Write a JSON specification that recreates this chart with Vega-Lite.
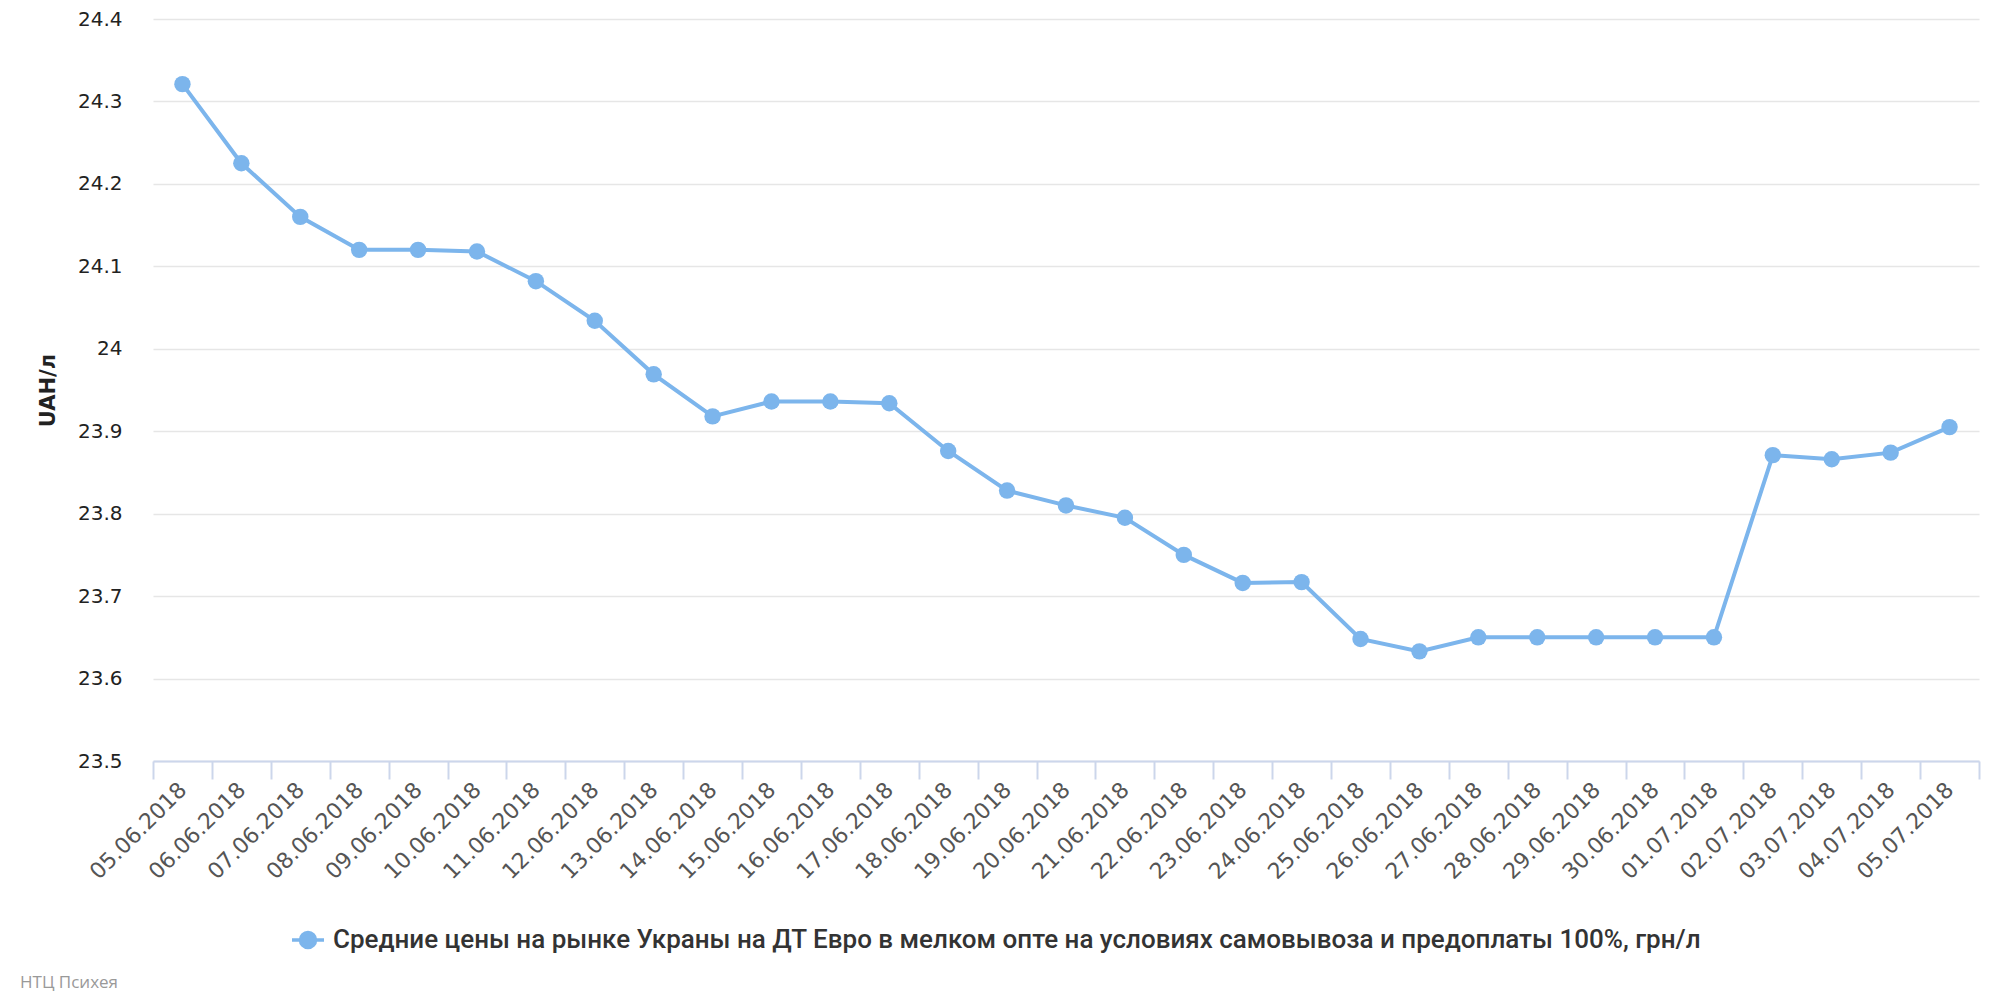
{
  "$schema": "https://vega.github.io/schema/vega-lite/v6.json",
  "width": 1826,
  "height": 742,
  "autosize": "none",
  "padding": {"left": 153, "top": 19, "right": 21, "bottom": 239},
  "background": "white",
  "title": {"text": "НТЦ Психея", "orient": "bottom", "anchor": "start", "frame": "group", "dx": -133, "offset": 20, "font": "Open Sans", "fontSize": 17, "fontWeight": "normal", "color": "#999999"},
  "config": {"view": {"stroke": null}},
  "data": {"values": [
    {"date": "05.06.2018", "price": 24.321},
    {"date": "06.06.2018", "price": 24.225},
    {"date": "07.06.2018", "price": 24.16},
    {"date": "08.06.2018", "price": 24.12},
    {"date": "09.06.2018", "price": 24.12},
    {"date": "10.06.2018", "price": 24.118},
    {"date": "11.06.2018", "price": 24.082},
    {"date": "12.06.2018", "price": 24.034},
    {"date": "13.06.2018", "price": 23.969},
    {"date": "14.06.2018", "price": 23.918},
    {"date": "15.06.2018", "price": 23.936},
    {"date": "16.06.2018", "price": 23.936},
    {"date": "17.06.2018", "price": 23.934},
    {"date": "18.06.2018", "price": 23.876},
    {"date": "19.06.2018", "price": 23.828},
    {"date": "20.06.2018", "price": 23.81},
    {"date": "21.06.2018", "price": 23.795},
    {"date": "22.06.2018", "price": 23.75},
    {"date": "23.06.2018", "price": 23.716},
    {"date": "24.06.2018", "price": 23.717},
    {"date": "25.06.2018", "price": 23.648},
    {"date": "26.06.2018", "price": 23.633},
    {"date": "27.06.2018", "price": 23.65},
    {"date": "28.06.2018", "price": 23.65},
    {"date": "29.06.2018", "price": 23.65},
    {"date": "30.06.2018", "price": 23.65},
    {"date": "01.07.2018", "price": 23.65},
    {"date": "02.07.2018", "price": 23.871},
    {"date": "03.07.2018", "price": 23.866},
    {"date": "04.07.2018", "price": 23.874},
    {"date": "05.07.2018", "price": 23.905}
  ]},
  "encoding": {
    "x": {"field": "date", "type": "nominal", "sort": null,
      "scale": {"type": "band", "paddingInner": 0, "paddingOuter": 0},
      "axis": {"title": null, "labelAngle": -45, "labelAlign": "right", "labelBaseline": "middle", "labelPadding": 7,
        "labelFont": "DejaVu Sans", "labelFontSize": 22, "labelColor": "#555555",
        "domainColor": "#ccd6eb", "domainWidth": 2, "tickColor": "#ccd6eb", "tickWidth": 2, "tickSize": 18,
        "tickBand": "extent", "grid": false}},
    "y": {"field": "price", "type": "quantitative",
      "scale": {"domain": [23.5, 24.4], "nice": false, "zero": false},
      "axis": {"title": "UAH/л", "titleFont": "DejaVu Sans", "titleFontSize": 21, "titleFontWeight": "bold", "titleColor": "#222222", "titlePadding": 19,
        "values": [23.5, 23.6, 23.7, 23.8, 23.9, 24, 24.1, 24.2, 24.3, 24.4], "format": "~g",
        "labelFont": "DejaVu Sans", "labelFontSize": 20, "labelColor": "#222222", "labelPadding": 31,
        "domain": false, "ticks": false, "gridColor": "#e6e6e6", "gridWidth": 1.5}},
    "color": {"datum": "Средние цены на рынке Украны на ДТ Евро в мелком опте на условиях самовывоза и предоплаты 100%, грн/л", "type": "nominal",
      "scale": {"range": ["#7cb5ec"]},
      "legend": {"title": null, "orient": "none", "legendX": 137, "legendY": 903, "padding": 0,
        "symbolType": "M-1,0L1,0M0.47,0A0.47,0.47,0,1,1,-0.47,0A0.47,0.47,0,1,1,0.47,0Z",
        "symbolSize": 1024, "symbolStrokeWidth": 3.5, "symbolFillColor": "#7cb5ec", "symbolStrokeColor": "#7cb5ec", "symbolOpacity": 1,
        "labelFont": "Roboto", "labelFontSize": 26, "labelFontWeight": 500, "labelColor": "#333333", "labelOffset": 7, "labelLimit": 0}}
  },
  "layer": [
    {"mark": {"type": "line", "strokeWidth": 4}},
    {"mark": {"type": "point", "filled": true, "size": 270, "opacity": 1}}
  ]
}
